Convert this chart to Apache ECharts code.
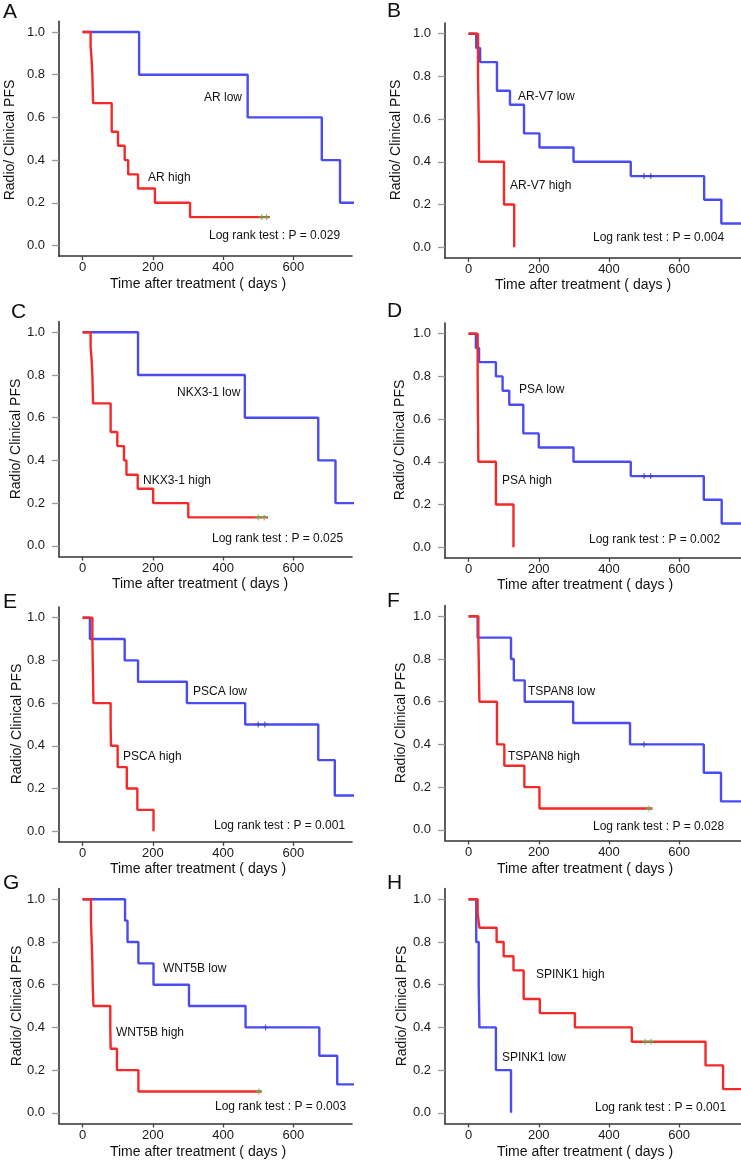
<!DOCTYPE html>
<html>
<head>
<meta charset="utf-8">
<script src="https://cdn.jsdelivr.net/npm/echarts@6.0.0/dist/echarts.min.js"></script>
<style>
html,body{margin:0;padding:0;background:#fff;}
#chart{width:741px;height:1161px;}
</style>
</head>
<body>
<div id="chart"></div>
<script>
// ---------- DATA ----------
const panelLetters = ['A','B','C','D','E','F','G','H'];
const highLabels = ['AR high','AR-V7 high','NKX3-1 high','PSA high','PSCA high','TSPAN8 high','WNT5B high','SPINK1 high'];
const lowLabels  = ['AR low','AR-V7 low','NKX3-1 low','PSA low','PSCA low','TSPAN8 low','WNT5B low','SPINK1 low'];
const pValues    = ['0.029','0.004','0.025','0.002','0.001','0.028','0.003','0.001'];
const xTicks = [0, 200, 400, 600];
const yTicks = [0, 0.2, 0.4, 0.6, 0.8, 1.0];
const xAxisTitle = 'Time after treatment ( days )';
const yAxisTitle = 'Radio/ Clinical PFS';

// Kaplan-Meier curves: [time (days), survival]
const arHigh = [[0,1],[23,0.933],[26,0.867],[28,0.8],[29,0.733],[30,0.667],[83,0.533],[101,0.467],[120,0.4],[130,0.333],[158,0.267],[206,0.2],[306,0.133],[533,0.133]];
const arLow = [[0,1],[161,0.8],[470,0.6],[681,0.4],[733,0.2],[780,0.2]];
const arHighCensor = [[510,0.133],[524,0.133]];
const arLowCensor = [];

const arv7High = [[0,1],[27,0.8],[29,0.6],[30,0.4],[101,0.2],[130,0]];
const arv7Low = [[0,1],[22,0.933],[33,0.867],[81,0.733],[118,0.667],[158,0.533],[202,0.467],[299,0.4],[462,0.333],[671,0.222],[720,0.111],[780,0.111]];
const arv7HighCensor = [];
const arv7LowCensor = [[500,0.333],[519,0.333]];

const nkxHigh = [[0,1],[23,0.933],[26,0.867],[28,0.8],[29,0.733],[30,0.667],[80,0.533],[99,0.467],[118,0.4],[125,0.333],[157,0.267],[201,0.2],[301,0.133],[528,0.133]];
const nkxLow = [[0,1],[158,0.8],[462,0.6],[671,0.4],[720,0.2],[780,0.2]];
const nkxHighCensor = [[500,0.133],[517,0.133]];
const nkxLowCensor = [];

const psaHigh = [[0,1],[26,0.8],[27,0.6],[28,0.4],[78,0.2],[128,0]];
const psaLow = [[0,1],[21,0.933],[30,0.867],[78,0.8],[97,0.733],[116,0.667],[156,0.533],[200,0.467],[299,0.4],[462,0.333],[670,0.222],[721,0.111],[780,0.111]];
const psaHighCensor = [];
const psaLowCensor = [[500,0.333],[519,0.333]];

const pscaHigh = [[0,1],[28,0.9],[29,0.8],[30,0.7],[31,0.6],[80,0.5],[81,0.4],[100,0.3],[126,0.2],[156,0.1],[202,0]];
const pscaLow = [[0,1],[21,0.9],[120,0.8],[158,0.7],[297,0.6],[463,0.5],[671,0.333],[718,0.167],[780,0.167]];
const pscaHighCensor = [];
const pscaLowCensor = [[500,0.5],[519,0.5]];

const tspanHigh = [[0,1],[28,0.9],[29,0.8],[30,0.7],[31,0.6],[81,0.4],[102,0.3],[159,0.2],[202,0.1],[524,0.1]];
const tspanLow = [[0,1],[26,0.9],[121,0.8],[129,0.7],[160,0.6],[298,0.5],[460,0.4],[670,0.267],[719,0.133],[780,0.133]];
const tspanHighCensor = [[514,0.1]];
const tspanLowCensor = [[500,0.4]];

const wntHigh = [[0,1],[24,0.9],[26,0.8],[28,0.7],[29,0.6],[31,0.5],[79,0.4],[80,0.3],[98,0.2],[159,0.1],[510,0.1]];
const wntLow = [[0,1],[121,0.9],[128,0.8],[159,0.7],[202,0.6],[303,0.5],[464,0.4],[674,0.267],[725,0.133],[780,0.133]];
const wntHighCensor = [[502,0.1]];
const wntLowCensor = [[521,0.4]];

const spinkHigh = [[0,1],[26,0.933],[31,0.867],[80,0.8],[100,0.733],[128,0.667],[157,0.533],[203,0.467],[303,0.4],[465,0.333],[675,0.222],[725,0.111],[780,0.111]];
const spinkLow = [[0,1],[22,0.8],[29,0.6],[31,0.4],[78,0.2],[121,0]];
const spinkHighCensor = [[503,0.333],[520,0.333]];
const spinkLowCensor = [];

const highCurves = [arHigh, arv7High, nkxHigh, psaHigh, pscaHigh, tspanHigh, wntHigh, spinkHigh];
const lowCurves  = [arLow, arv7Low, nkxLow, psaLow, pscaLow, tspanLow, wntLow, spinkLow];
const highCensors = [arHighCensor, arv7HighCensor, nkxHighCensor, psaHighCensor, pscaHighCensor, tspanHighCensor, wntHighCensor, spinkHighCensor];
const lowCensors  = [arLowCensor, arv7LowCensor, nkxLowCensor, psaLowCensor, pscaLowCensor, tspanLowCensor, wntLowCensor, spinkLowCensor];

// ---------- LAYOUT (pixels) ----------
const PX_PER_UNIT = 213.5;
const yTop1 = [32, 33.7, 332.3, 333.7, 617.7, 616.3, 899.3, 899.3];  // pixel of survival 1.0
const colLeft = [59, 445];
const colWidth = [293, 296];
const colXMax = [767, 776];
const letterPos = [[3,13],[387,12],[11,313],[387,312],[3,603],[387,602],[3,884],[387,884]];
const yTitlePos = [[10,140],[396,140],[16,439],[400,440],[17,724],[401,723],[17,1006],[402,1006]];
const xTitlePos = [[198,284],[583,285],[200,584],[585,585],[198,869],[585,869],[198,1152],[585,1152]];
const lowLabelPos  = [[204,98],[518,97],[177,393],[519,390],[193,692],[528,692],[163,969],[502,1058]];
const highLabelPos = [[148,178],[510,186],[143,481],[502,481],[123,757],[508,757],[116,1033],[536,975]];
const logPos = [[209,236],[593,238],[212,539],[589,540],[214,826],[593,827],[215,1107],[595,1108]];

const FONT = '"Liberation Sans", Arial, Helvetica, sans-serif';
const RED = '#f42a2a';
const BLUE = '#4b4bf2';
const GREEN = '#4cc24c';
const CENSOR_BLUE = '#3a3ab8';
const plusSymbol = 'path://M4,0H6V4H10V6H6V10H4V6H0V4H4Z';

const grids = [], xAxes = [], yAxes = [], series = [], graphics = [];

for (let i = 0; i < 8; i++) {
  const col = i % 2;
  const top = yTop1[i] - 0.05 * PX_PER_UNIT;
  grids.push({ left: colLeft[col], top: top, width: colWidth[col], height: 1.1 * PX_PER_UNIT, containLabel: false });
  xAxes.push({
    type: 'value', gridIndex: i, min: -67, max: colXMax[col],
    axisLine: { show: true, onZero: false, lineStyle: { color: '#333', width: 1.6 } },
    axisTick: { show: true, customValues: xTicks, length: 4, lineStyle: { color: '#444', width: 1.3 } },
    axisLabel: { show: true, customValues: xTicks, margin: 5, fontSize: 13, color: '#1a1a1a', fontFamily: FONT },
    splitLine: { show: false }
  });
  yAxes.push({
    type: 'value', gridIndex: i, min: -0.05, max: 1.05,
    axisLine: { show: true, onZero: false, lineStyle: { color: '#333', width: 1.6 } },
    axisTick: { show: true, customValues: yTicks, length: 7, lineStyle: { color: '#999', width: 1.3 } },
    axisLabel: { show: true, customValues: yTicks, margin: 14, fontSize: 13, color: '#1a1a1a', fontFamily: FONT,
      formatter: v => Number(v).toFixed(1) },
    splitLine: { show: false }
  });
  // low (blue) first, high (red) on top
  series.push({
    type: 'line', xAxisIndex: i, yAxisIndex: i, data: lowCurves[i], step: 'end',
    showSymbol: false, symbol: 'none', clip: true, z: 3,
    lineStyle: { color: BLUE, width: 2.4 }, emphasis: { disabled: true }
  });
  series.push({
    type: 'line', xAxisIndex: i, yAxisIndex: i, data: highCurves[i], step: 'end',
    showSymbol: false, symbol: 'none', clip: true, z: 4,
    lineStyle: { color: RED, width: 2.4 }, emphasis: { disabled: true }
  });
  if (lowCensors[i].length) series.push({
    type: 'scatter', xAxisIndex: i, yAxisIndex: i, data: lowCensors[i], symbol: plusSymbol,
    symbolSize: [6, 6], itemStyle: { color: CENSOR_BLUE }, z: 5
  });
  if (highCensors[i].length) series.push({
    type: 'scatter', xAxisIndex: i, yAxisIndex: i, data: highCensors[i], symbol: plusSymbol,
    symbolSize: [6, 6], itemStyle: { color: GREEN }, z: 5
  });

  // texts
  graphics.push({ type: 'text', left: letterPos[i][0], top: letterPos[i][1] - 11,
    style: { text: panelLetters[i], font: '21px ' + FONT, fill: '#111' } });
  graphics.push({ type: 'text', x: yTitlePos[i][0], y: yTitlePos[i][1], rotation: Math.PI / 2,
    style: { text: yAxisTitle, font: '14px ' + FONT, fill: '#111', align: 'center', verticalAlign: 'middle' } });
  graphics.push({ type: 'text', x: xTitlePos[i][0], y: xTitlePos[i][1],
    style: { text: xAxisTitle, font: '14px ' + FONT, fill: '#111', align: 'center', verticalAlign: 'middle' } });
  graphics.push({ type: 'text', x: lowLabelPos[i][0], y: lowLabelPos[i][1],
    style: { text: lowLabels[i], font: '12px ' + FONT, fill: '#111', align: 'left', verticalAlign: 'middle' } });
  graphics.push({ type: 'text', x: highLabelPos[i][0], y: highLabelPos[i][1],
    style: { text: highLabels[i], font: '12px ' + FONT, fill: '#111', align: 'left', verticalAlign: 'middle' } });
  graphics.push({ type: 'text', x: logPos[i][0], y: logPos[i][1],
    style: { text: 'Log rank test : P = ' + pValues[i], font: '12px ' + FONT, fill: '#111', align: 'left', verticalAlign: 'middle' } });
}

const chart = echarts.init(document.getElementById('chart'), null, { renderer: 'canvas' });
chart.setOption({
  animation: false,
  backgroundColor: '#fff',
  grid: grids, xAxis: xAxes, yAxis: yAxes, series: series,
  graphic: { elements: graphics }
});
</script>
</body>
</html>
